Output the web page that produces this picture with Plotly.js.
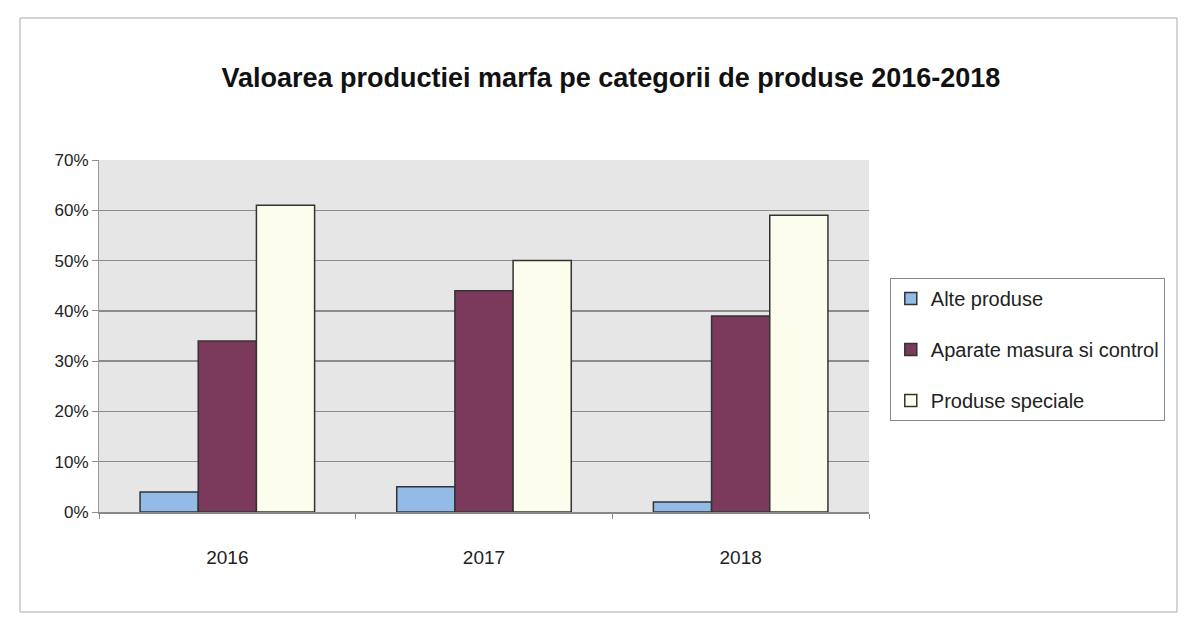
<!DOCTYPE html>
<html>
<head>
<meta charset="utf-8">
<script src="https://cdn.plot.ly/plotly-3.0.1.min.js"></script>
<style>
  html, body { margin: 0; padding: 0; background: #ffffff; }
  #chart { width: 1184px; height: 621px; }
</style>
</head>
<body>
<div id="chart"></div>
<script>
const years = ['2016', '2017', '2018'];
const seriesNames = ['Alte produse', 'Aparate masura si control', 'Produse speciale'];
const alteProduse = [4, 5, 2];
const aparateMasura = [34, 44, 39];
const produseSpeciale = [61, 50, 59];
const yTickValues = [0, 10, 20, 30, 40, 50, 60, 70];
const yTickLabels = ['0%', '10%', '20%', '30%', '40%', '50%', '60%', '70%'];

const colors = ['#92bbe8', '#7b3a5c', '#fdfdee'];
const values = [alteProduse, aparateMasura, produseSpeciale];

const traces = values.map((v, i) => ({
  type: 'bar',
  x: years,
  y: v,
  name: seriesNames[i],
  legendgroup: 'g' + i,
  marker: { color: colors[i], line: { color: '#333333', width: 1.5 } },
  hoverinfo: 'x+y+name'
}));

const font = "'Liberation Sans', Arial, sans-serif";

const layout = {
  width: 1184,
  height: 621,
  margin: { l: 99, r: 315, t: 160, b: 109 },
  paper_bgcolor: '#ffffff',
  plot_bgcolor: '#e6e6e6',
  font: { family: font, color: '#222222', size: 16 },
  title: {
    text: '<b>Valoarea productiei marfa pe categorii de produse 2016-2018</b>',
    font: { family: font, size: 27, color: '#111111' },
    x: 0.516, xanchor: 'center',
    y: 0.875, yanchor: 'middle'
  },
  barmode: 'group',
  bargap: 0.32,
  bargroupgap: 0,
  xaxis: {
    type: 'category',
    showline: true, linecolor: '#888888', linewidth: 1.5,
    ticks: 'outside', tickson: 'boundaries', ticklen: 5, tickcolor: '#888888',
    ticklabelstandoff: 28,
    tickfont: { size: 19, family: font, color: '#222222' },
    showgrid: false
  },
  yaxis: {
    range: [0, 70],
    tickvals: yTickValues,
    ticktext: yTickLabels,
    showline: true, linecolor: '#999999', linewidth: 1,
    ticks: 'outside', ticklen: 6, tickcolor: '#8c8c8c',
    showgrid: true, gridcolor: '#8c8c8c', gridwidth: 1.5,
    zeroline: false,
    tickfont: { size: 17, family: font, color: '#222222' }
  },
  legend: {
    x: 1.027, xanchor: 'left',
    y: 0.665, yanchor: 'top',
    bgcolor: '#ffffff',
    bordercolor: '#888888', borderwidth: 1,
    font: { size: 20, family: font, color: '#222222' },
    tracegroupgap: 22,
    itemwidth: 30
  },
  shapes: [{
    type: 'rect', xref: 'paper', yref: 'paper',
    x0: -79 / 770, x1: 1078 / 770,
    y0: -100 / 352, y1: 494 / 352,
    line: { color: '#aaaaaa', width: 1 }
  }]
};

Plotly.newPlot('chart', traces, layout, { displayModeBar: false, staticPlot: true });
</script>
</body>
</html>
